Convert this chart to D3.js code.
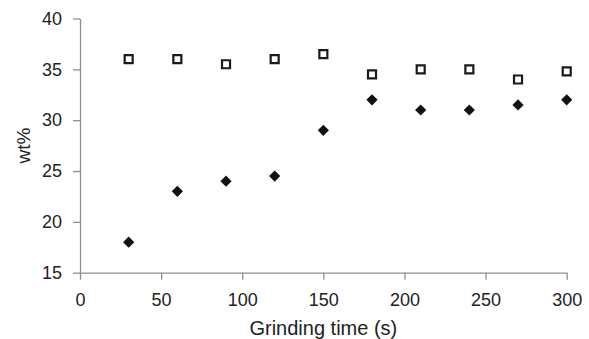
<!DOCTYPE html>
<html><head><meta charset="utf-8">
<script src="https://cdn.jsdelivr.net/npm/d3@7"></script>
<style>body{margin:0;background:#fff}svg{display:block}text{font-family:"Liberation Sans",Arial,sans-serif;fill:#222}</style>
</head><body>
<svg id="c" width="589" height="339"></svg>
<script>
const times = [30,60,90,120,150,180,210,240,270,300];
const squares = [36,36,35.5,36,36.5,34.5,35,35,34,34.8];
const diamonds = [18,23,24,24.5,29,32,31,31,31.5,32];
const xTicks = [0,50,100,150,200,250,300];
const yTicks = [15,20,25,30,35,40];
const xLabel = "Grinding time (s)";
const yLabel = "wt%";

const svg = d3.select("#c");
const x = d3.scaleLinear().domain([0,300]).range([80, 566.7]);
const y = d3.scaleLinear().domain([15,40]).range([272.7, 18.5]);

const gx = svg.append("g").attr("transform",`translate(0,${y(15)})`)
  .call(d3.axisBottom(x).tickValues(xTicks).tickSize(7).tickPadding(14).tickSizeOuter(0));
const gy = svg.append("g").attr("transform",`translate(${x(0)},0)`)
  .call(d3.axisLeft(y).tickValues(yTicks).tickSize(7).tickPadding(11).tickSizeOuter(0));
[gx,gy].forEach(g=>{
  g.selectAll("path,line").attr("stroke","#8f8f8f").attr("stroke-width",1.3);
  g.selectAll("text").attr("font-size",18).attr("fill","#222").attr("font-family","'Liberation Sans',Arial,sans-serif");
});

svg.append("text").attr("x",(x(0)+x(300))/2).attr("y",335).attr("text-anchor","middle")
  .attr("font-size",20).text(xLabel);
svg.append("text").attr("transform",`translate(30,${(y(15)+y(40))/2}) rotate(-90)`)
  .attr("text-anchor","middle").attr("font-size",19).text(yLabel);

const sqPath = "M-4,-4H4V4H-4Z";
const dmPath = "M0,-5.6L5.6,0L0,5.6L-5.6,0Z";
svg.append("g").selectAll("path").data(times).join("path")
  .attr("d",sqPath).attr("transform",(d,i)=>`translate(${x(d)},${y(squares[i])})`)
  .attr("fill","#fff").attr("stroke","#1a1a1a").attr("stroke-width",2.2);
svg.append("g").selectAll("path").data(times).join("path")
  .attr("d",dmPath).attr("transform",(d,i)=>`translate(${x(d)},${y(diamonds[i])})`)
  .attr("fill","#111");
</script>
</body></html>
